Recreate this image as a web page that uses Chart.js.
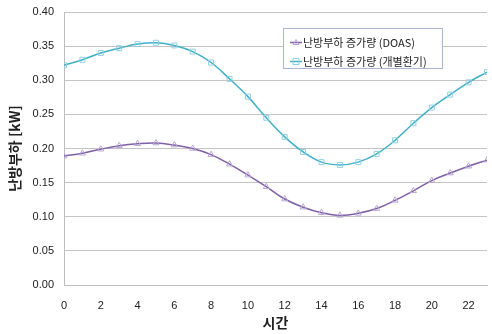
<!DOCTYPE html>
<html>
<head>
<meta charset="utf-8">
<script src="https://cdn.jsdelivr.net/npm/chart.js@4"></script>
<style>
  html, body { margin: 0; padding: 0; background: #fff; }
  #wrap { width: 492px; height: 334px; }
</style>
</head>
<body>
<div id="wrap"><canvas id="loadChart" width="492" height="334"></canvas></div>
<script>
// hours 0..23
const hours = [0, 1, 2, 3, 4, 5, 6, 7, 8, 9, 10, 11, 12, 13, 14, 15, 16, 17, 18, 19, 20, 21, 22, 23];
const doasLoad = [0.189, 0.193, 0.199, 0.204, 0.207, 0.208, 0.205, 0.200, 0.191, 0.177, 0.161, 0.144,
  0.126, 0.114, 0.106, 0.102, 0.105, 0.112, 0.124, 0.138, 0.153, 0.164, 0.174, 0.183];
const individualLoad = [0.322, 0.330, 0.340, 0.347, 0.353, 0.355, 0.351, 0.342, 0.326, 0.302, 0.276, 0.245,
  0.217, 0.195, 0.180, 0.176, 0.180, 0.192, 0.212, 0.237, 0.260, 0.279, 0.297, 0.312];
const seriesLabels = ["난방부하 증가량 (DOAS)", "난방부하 증가량 (개별환기)"];
const xTicks = [0, 2, 4, 6, 8, 10, 12, 14, 16, 18, 20, 22];

const KR_FONT = "'Noto Sans CJK KR', 'Noto Sans', sans-serif";

// legend box floating inside the plot, like the Excel original
const boxLegend = {
  id: "boxLegend",
  afterDraw(chart) {
    const ctx = chart.ctx;
    const x = 283.5, y = 28.5, w = 159, h = 40;
    ctx.save();
    ctx.fillStyle = "#fff";
    ctx.fillRect(x, y, w, h);
    ctx.strokeStyle = "#a9b8d0";
    ctx.lineWidth = 1;
    ctx.strokeRect(x, y, w, h);
    chart.data.datasets.forEach((ds, i) => {
      const cy = 42.5 + i * 19;
      ctx.strokeStyle = ds.borderColor;
      ctx.lineWidth = 1.5;
      ctx.beginPath();
      ctx.moveTo(290, cy);
      ctx.lineTo(302, cy);
      ctx.stroke();
      ctx.strokeStyle = ds.pointBorderColor;
      ctx.lineWidth = 1;
      ctx.beginPath();
      if (ds.pointStyle === "triangle") {
        ctx.moveTo(296, cy - 3);
        ctx.lineTo(299, cy + 2);
        ctx.lineTo(293, cy + 2);
        ctx.closePath();
      } else {
        ctx.rect(293, cy - 3, 6, 6);
      }
      ctx.stroke();
      ctx.fillStyle = "#222";
      ctx.font = "11px " + KR_FONT;
      ctx.textBaseline = "middle";
      ctx.fillText(ds.label, 303, cy);
    });
    ctx.restore();
  },
};

const ctx = document.getElementById("loadChart").getContext("2d");
new Chart(ctx, {
  type: "line",
  data: {
    datasets: [
      {
        label: seriesLabels[0],
        data: hours.map((h, i) => ({ x: h, y: doasLoad[i] })),
        borderColor: "#7f5fa8",
        borderWidth: 1.5,
        pointStyle: "triangle",
        pointRadius: 3.5,
        pointBorderColor: "#b9a6d2",
        pointBackgroundColor: "rgba(0,0,0,0)",
        pointBorderWidth: 1,
        tension: 0.4,
        fill: false,
      },
      {
        label: seriesLabels[1],
        data: hours.map((h, i) => ({ x: h, y: individualLoad[i] })),
        borderColor: "#3fb0c9",
        borderWidth: 1.5,
        pointStyle: "rect",
        pointRadius: 3.5,
        pointBorderColor: "#8fd0e0",
        pointBackgroundColor: "rgba(0,0,0,0)",
        pointBorderWidth: 1,
        tension: 0.4,
        fill: false,
      },
    ],
  },
  options: {
    responsive: false,
    animation: false,
    layout: { padding: { left: 0, right: 2, top: 12, bottom: 0 } },
    plugins: {
      legend: { display: false },
      tooltip: { enabled: false },
    },
    scales: {
      x: {
        type: "linear",
        min: 0,
        max: 23,
        grid: { display: false },
        border: { display: true, color: "#bdbdbd", width: 1 },
        afterBuildTicks: (scale) => { scale.ticks = xTicks.map((v) => ({ value: v })); },
        ticks: {
          autoSkip: false,
          maxRotation: 0,
          padding: 6,
          color: "#222",
          font: { family: "'Liberation Sans', Arial, sans-serif", size: 11 },
          callback: (v) => String(v),
        },
        title: {
          display: true,
          text: "시간",
          color: "#222",
          font: { family: KR_FONT, size: 14, weight: "bold" },
          padding: { top: 0, bottom: 3 },
        },
        afterFit: (scale) => {
          scale.height = 49;
          scale.paddingLeft = 0;
          scale.paddingRight = 0;
        },
      },
      y: {
        min: 0,
        max: 0.4,
        grid: { color: "#c4c4c4", lineWidth: 1, drawTicks: false },
        border: { display: true, color: "#bdbdbd", width: 1 },
        ticks: {
          stepSize: 0.05,
          padding: 10,
          color: "#222",
          font: { family: "'Liberation Sans', Arial, sans-serif", size: 11 },
          callback: (v) => v.toFixed(2),
        },
        title: {
          display: true,
          text: "난방부하 [kW]",
          color: "#222",
          font: { family: KR_FONT, size: 14, weight: "bold" },
          padding: { top: 6, bottom: 0 },
        },
        afterFit: (scale) => {
          scale.width = 64;
          scale.paddingTop = 0;
          scale.paddingBottom = 0;
        },
      },
    },
  },
  plugins: [boxLegend],
});
</script>
</body>
</html>
